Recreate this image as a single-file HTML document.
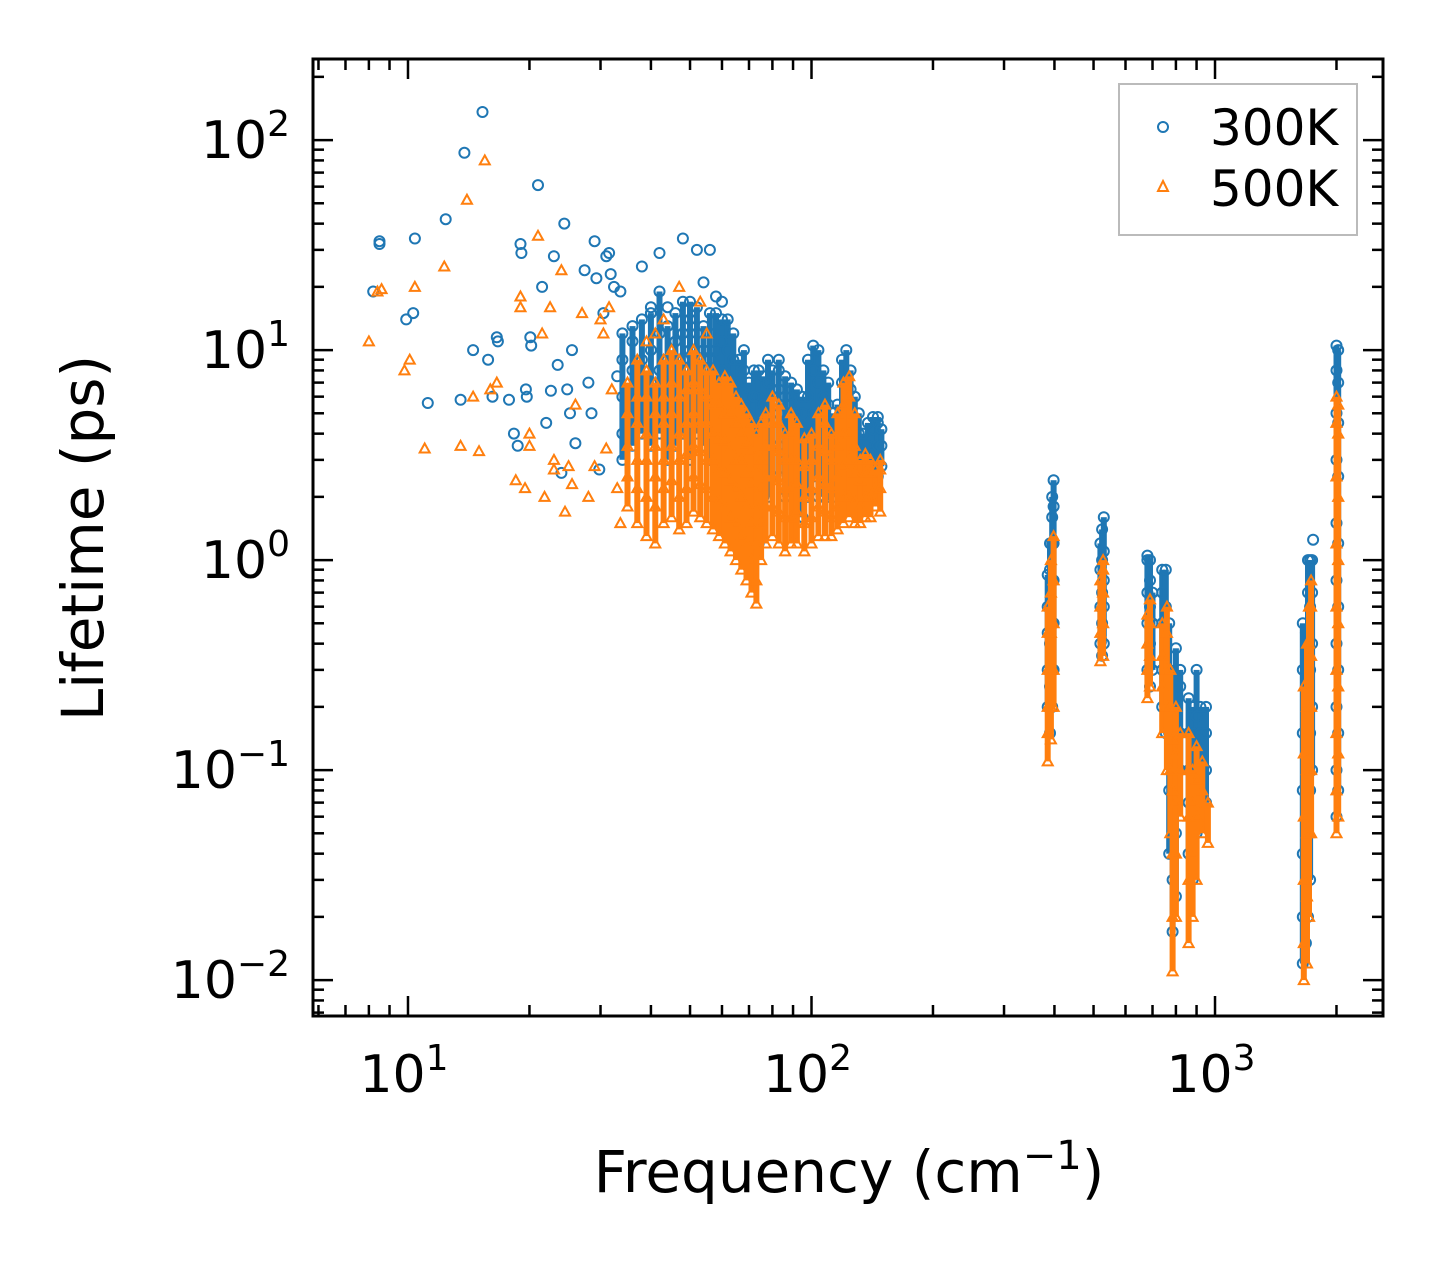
<!DOCTYPE html>
<html><head><meta charset="utf-8"><style>
html,body{margin:0;padding:0;background:#fff}
svg{display:block}
text{font-family:"DejaVu Sans","Liberation Sans",sans-serif;fill:#000}
</style></head><body>
<svg id="chart" width="1442" height="1265" viewBox="0 0 1442 1265" xmlns="http://www.w3.org/2000/svg">
<rect x="0" y="0" width="1442" height="1265" fill="#fff"/>
<g id="marks300"></g>
<g id="marks500"></g>
<g id="axes"></g>
<rect x="313" y="59" width="1070" height="957" fill="none" stroke="#000" stroke-width="3"/>
<text x="849" y="1192" font-size="58" text-anchor="middle">Frequency (cm<tspan dy="-23" font-size="40">−1</tspan><tspan dy="23">)</tspan></text>
<text transform="translate(103,538) rotate(-90)" font-size="58" text-anchor="middle">Lifetime (ps)</text>
<g>
<rect x="1119" y="84" width="238" height="151" fill="#fff" stroke="#bbb" stroke-width="2"/>
<circle cx="1163" cy="127" r="5" fill="none" stroke="#1f77b4" stroke-width="2"/>
<text x="1210" y="145" font-size="50">300K</text>
<polygon points="1163,181 1168,191 1158,191" fill="none" stroke="#ff7f0e" stroke-width="2"/>
<text x="1210" y="206" font-size="50">500K</text>
</g>
</svg>
<script>
const xTickDecades=[1,2,3];
const yTickDecades=[-2,-1,0,1,2];
const blueScatter=[[8.2,19],[8.5,33],[8.5,32],[9.9,14],[10.3,15],[10.4,34],[11.2,5.6],[12.4,42],[13.5,5.8],[13.8,87],[14.5,10],[15.3,136],[15.8,9],[16.2,6],[16.6,11.5],[16.7,11],[17.8,5.8],[18.3,4],[18.7,3.5],[19,32],[19.1,29],[19.6,6.5],[19.7,6],[20.1,11.5],[20.2,10.5],[21,61],[21.5,20],[22,4.5],[22.6,6.4],[23,28],[23.5,8.5],[24,2.6],[24.4,40],[24.8,6.5],[25.2,5],[25.5,10],[26,3.6],[27.4,24],[28,7],[28.5,5],[29,33],[29.3,22],[29.8,2.7],[30.5,15],[31,28],[31.8,23],[31.5,29],[32.4,20],[33,7.5],[33.6,19],[38,25],[42,29],[48,34],[52,30],[56,30],[54,21],[40,16],[44,16],[58,18],[60,17],[1750,1.25]];
const blueGroups=[[34,[3,4,6,9,12]],[36,[3.5,5,8,11,13]],[38,[4,6,9,14]],[40,[3.5,5,7,10,15]],[42,[4,6,8,12,19]],[44,[3,5,7,9,13]],[46,[3.5,5,8,11,15]],[48,[4,6,9,12,17]],[50,[3,5,7,10,14,17]],[52,[4,6,8,12,16]],[54,[3.5,5,7,10,13]],[56,[3,4.5,6,9,12,15]],[58,[3.5,5,7,10,15]],[60,[3,4,6,8,11,14]],[62,[3,4,5,7,10,14]],[64,[2.5,3.5,5,7,9,12]],[66,[2.5,3.5,5,7,9]],[68,[2,3,4,6,8,10]],[70,[1.6,2.5,3.5,5,7]],[72,[1.3,2,3,4.5,6,8]],[74,[1.2,2,3,4,6,8]],[76,[2,3,4,5.5,7.5]],[78,[2,3,4,5,7,9]],[80,[2.5,3.5,5,6.5,8]],[83,[2.5,3.5,5,6.5,8,9]],[86,[2,3,4.5,6,7.5]],[89,[2,3,4,5.5,7]],[92,[2,3,4,5,6.5]],[95,[1.6,2.5,3.5,5,6]],[98,[2,3,4,6,9]],[101,[2.5,3.5,5,8,10.5]],[104,[2,3,4.5,7,10]],[107,[2,3,4,6,8]],[110,[2,2.8,4,5.5,7]],[113,[2,3,3.8,5]],[116,[2.2,3,4,5.5]],[119,[2.5,3.5,5,7,9]],[122,[2.5,4,5.5,7,10]],[125,[2.5,3.5,5,6.5,8]],[128,[2.5,3.5,4.5,6]],[131,[2,3,4,5]],[134,[2.5,3,4]],[138,[2.5,3.5,4.5]],[142,[2.5,3.2,4.2,4.8]],[146,[2.5,3.5,4.5,4.8]],[149,[2.8,3.5,4.2]],
[385,[0.2,0.3,0.45,0.6,0.85]],[390,[0.15,0.25,0.4,0.6,0.9,1.2]],[395,[0.2,0.3,0.5,0.8,1.2,1.6,2]],[398,[0.3,0.5,0.8,1.2,1.8,2.4]],
[520,[0.4,0.6,0.9,1.2]],[525,[0.35,0.5,0.7,1,1.4]],[530,[0.4,0.6,0.8,1.1,1.6]],
[680,[0.3,0.5,0.7,1,1.05]],[690,[0.25,0.4,0.6,0.8,1]],[700,[0.3,0.5,0.7]],[740,[0.2,0.3,0.5,0.7,0.9]],[755,[0.15,0.25,0.4,0.6,0.9]],[770,[0.04,0.08,0.15,0.3,0.5]],[785,[0.017,0.03,0.06,0.1,0.2]],[800,[0.025,0.05,0.1,0.2,0.38]],[820,[0.1,0.15,0.25,0.3]],[860,[0.04,0.07,0.1,0.15,0.22]],[880,[0.03,0.06,0.1,0.15,0.2]],[900,[0.05,0.08,0.12,0.18,0.3]],[920,[0.06,0.1,0.15,0.2]],[950,[0.07,0.1,0.15,0.2]],
[1650,[0.012,0.02,0.04,0.08,0.15,0.3,0.5]],[1680,[0.015,0.03,0.06,0.12,0.25,0.45]],[1700,[0.02,0.05,0.1,0.2,0.4,0.7,1]],[1720,[0.03,0.08,0.15,0.3,0.6,1]],[1740,[0.1,0.2,0.4,0.7,1]],
[2000,[0.06,0.1,0.2,0.4,0.8,1.5,3,5,8,10.5]],[2020,[0.08,0.15,0.3,0.6,1.2,2.5,4.5,7,10]]];
const orangeScatter=[[8,11],[8.4,19],[8.6,19.5],[9.8,8],[10.1,9],[10.4,20],[11,3.4],[12.3,25],[13.5,3.5],[14,52],[14.5,6],[15,3.3],[15.5,80],[16,6.5],[16.6,7],[18.5,2.4],[19,18],[19,16],[19.5,2.2],[20,4],[20,3.5],[21,35],[21.5,12],[21.8,2],[22.5,16],[23,3],[23,2.7],[24,24],[24.5,1.7],[25,2.8],[25.5,2.3],[26,5.5],[27,15],[28,2],[29,2.8],[30,14],[30.5,12],[31,3.4],[31.5,16],[32,6.5],[33,2.2],[33.6,1.5],[47,20],[53,17],[43,14],[41,12],[55,12],[39,11]];
const orangeGroups=[[35,[1.8,2.5,3.5,5,7]],[37,[1.5,2.2,3,4.5,6,9]],[39,[1.3,2,3,4,6,8]],[41,[1.2,1.8,2.5,3.5,5,7]],[43,[1.5,2.2,3,4.5,6,9]],[45,[1.6,2.4,3.5,5,7,10]],[47,[1.4,2,3,4,6,9]],[49,[1.5,2.2,3.2,4.5,6.5,8]],[51,[1.7,2.5,3.5,5,7,10]],[53,[1.6,2.3,3.3,4.5,6.5,9]],[55,[1.5,2.2,3,4.5,6,8]],[57,[1.4,2,3,4,5.5,8]],[59,[1.3,1.9,2.7,3.8,5.5,7]],[61,[1.2,1.8,2.6,3.7,5,7.5]],[63,[1.1,1.6,2.4,3.4,5,7]],[65,[1,1.5,2.2,3,4.5,6]],[67,[0.9,1.3,2,3,4,5.5]],[69,[0.8,1.2,1.8,2.6,3.6,5]],[71,[0.7,1,1.5,2.3,3.3,4.5]],[73,[0.62,0.8,1.2,1.8,2.7,4]],[75,[1,1.5,2.2,3,4.5]],[77,[1.2,1.8,2.5,3.5,5]],[80,[1.3,1.8,2.5,3.5,4.5,6]],[83,[1.2,1.7,2.4,3.3,4.5,5.5]],[86,[1.1,1.6,2.2,3,4]],[89,[1.2,1.6,2.2,3,4,5]],[92,[1.2,1.7,2.3,3,4.5]],[96,[1.1,1.5,2,2.8,3.8]],[100,[1.2,1.6,2.2,3,4]],[104,[1.3,1.8,2.5,3.5,5]],[108,[1.3,1.7,2.3,3.3,4.5,5.5]],[112,[1.3,1.6,2.2,3,4]],[116,[1.4,1.8,2.5,3.5,5]],[120,[1.5,2,2.8,4,5.5,7]],[124,[1.6,2,3,4,6,7.5]],[128,[1.5,1.9,2.6,3.5,5]],[132,[1.5,1.8,2.4,3]],[136,[1.6,2,2.6,3.2]],[140,[1.6,2,2.6,3]],[144,[1.8,2.2,2.7]],[148,[1.7,2.2,2.7,3]],
[385,[0.11,0.15,0.2,0.3,0.45,0.6]],[392,[0.14,0.2,0.3,0.45,0.7,1]],[398,[0.2,0.3,0.5,0.8,1.3]],
[520,[0.33,0.45,0.6,0.8]],[528,[0.35,0.5,0.7,0.9,1]],
[680,[0.22,0.3,0.4,0.55]],[690,[0.25,0.35,0.5,0.65]],[740,[0.15,0.25,0.35,0.5]],[760,[0.1,0.2,0.3,0.45,0.6]],[775,[0.05,0.1,0.2,0.3]],[785,[0.011,0.02,0.04,0.08,0.14]],[800,[0.02,0.04,0.07,0.12,0.2]],[820,[0.06,0.1,0.15]],[860,[0.015,0.03,0.06,0.1,0.15]],[880,[0.02,0.04,0.07,0.1]],[900,[0.03,0.06,0.09,0.13]],[930,[0.05,0.08,0.11]],[960,[0.045,0.07]],
[1660,[0.01,0.015,0.03,0.06,0.12,0.25]],[1690,[0.012,0.025,0.05,0.1,0.2,0.4]],[1710,[0.02,0.05,0.1,0.2,0.4,0.6]],[1730,[0.05,0.1,0.2,0.35,0.6,0.8]],
[2000,[0.05,0.08,0.15,0.3,0.6,1.2,2.5,4.5,6]],[2020,[0.06,0.12,0.25,0.5,1,2,4,5.5]]];

const NS="http://www.w3.org/2000/svg";
const L=313,R=1383,T=59,B=1016;
const xMinLog=0.7646,xMaxLog=3.4163,yMinLog=-2.171,yMaxLog=2.386;
function xs(v){return L+(Math.log10(v)-xMinLog)/(xMaxLog-xMinLog)*(R-L);}
function ys(v){return B-(Math.log10(v)-yMinLog)/(yMaxLog-yMinLog)*(B-T);}
function mk(tag,attrs,parent){const e=document.createElementNS(NS,tag);for(const k in attrs)e.setAttribute(k,attrs[k]);parent.appendChild(e);return e;}
function flatten(sc,gr){const out=sc.slice();gr.forEach(g=>g[1].forEach(v=>out.push([g[0],v])));return out;}
function bands(gr,parent,color){
  gr.forEach(g=>{
    const lo=Math.min(...g[1]),hi=Math.max(...g[1]);
    const x=xs(g[0]),y1=ys(hi),y2=ys(lo);
    const r=mk('rect',{x:(x-3).toFixed(1),y:y1.toFixed(1),width:6,height:(y2-y1).toFixed(1),fill:color},parent);
    
    
  });
}

const g3=document.getElementById('marks300');
bands(blueGroups,g3,'#1f77b4');
flatten(blueScatter,blueGroups).forEach(p=>{
  const c=mk('circle',{cx:xs(p[0]).toFixed(1),cy:ys(p[1]).toFixed(1),r:5,fill:'none',stroke:'#1f77b4','stroke-width':2},g3);
  
  
});
const g5=document.getElementById('marks500');
bands(orangeGroups,g5,'#ff7f0e');
flatten(orangeScatter,orangeGroups).forEach(p=>{
  const x=xs(p[0]),y=ys(p[1]);
  const t=mk('polygon',{points:`${x},${y-5} ${x+5},${y+4} ${x-5},${y+4}`,fill:'none',stroke:'#ff7f0e','stroke-width':2},g5);
  
  
});

const ax=document.getElementById('axes');
function line(x1,y1,x2,y2,name){const l=mk('line',{x1,y1,x2,y2,stroke:'#000','stroke-width':2.5},ax);}
for(let d=0;d<=3;d++){for(let m=1;m<10;m++){const v=m*Math.pow(10,d);const lv=Math.log10(v);if(lv<xMinLog||lv>xMaxLog)continue;const x=xs(v);const len=m===1?20:11;line(x,B,x,B-len,'x-tick');line(x,T,x,T+len,'x-tick-top');}}
for(let d=-3;d<=2;d++){for(let m=1;m<10;m++){const v=m*Math.pow(10,d);const lv=Math.log10(v);if(lv<yMinLog||lv>yMaxLog)continue;const y=ys(v);const len=m===1?20:11;line(L,y,L+len,y,'y-tick');line(R,y,R-len,y,'y-tick-right');}}
xTickDecades.forEach(d=>{const t=mk('text',{x:xs(Math.pow(10,d))-4,y:1092,'font-size':52,'text-anchor':'middle'},ax);t.innerHTML=`10<tspan dy="-22" font-size="36">${d}</tspan>`;});
yTickDecades.forEach(d=>{const lab=d<0?'−'+Math.abs(d):String(d);const t=mk('text',{x:290,y:ys(Math.pow(10,d))+18,'font-size':52,'text-anchor':'end'},ax);t.innerHTML=`10<tspan dy="-22" font-size="36">${lab}</tspan>`;});
</script>
</body></html>
